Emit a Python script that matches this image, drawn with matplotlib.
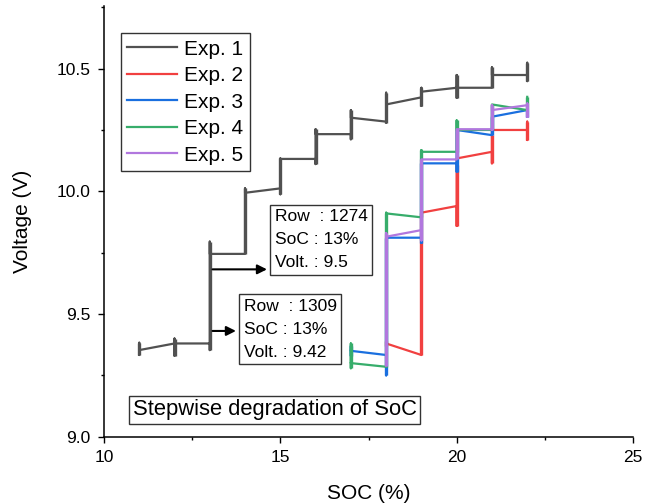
import matplotlib
matplotlib.use("Agg")
import matplotlib.pyplot as plt
from matplotlib.ticker import MultipleLocator

plt.rcParams['font.family'] = ['Liberation Sans', 'DejaVu Sans']

# each point: line arrives at v_in, vertical range lo..hi, line leaves at v_out
soc1 = [11, 12, 13, 14, 15, 16, 17, 18, 19, 20, 21, 22]
in1 = [9.353, 9.38, 9.38, 9.745, 10.012, 10.132, 10.233, 10.284, 10.383, 10.422, 10.422, 10.474]
lo1 = [9.333, 9.33, 9.353, 9.745, 9.988, 10.111, 10.212, 10.28, 10.348, 10.381, 10.422, 10.449]
hi1 = [9.383, 9.40, 9.795, 10.012, 10.134, 10.253, 10.331, 10.402, 10.422, 10.474, 10.505, 10.524]
out1 = [9.353, 9.38, 9.745, 9.994, 10.132, 10.233, 10.30, 10.354, 10.406, 10.422, 10.474, 10.474]

soc2 = [18, 19, 20, 21, 22]
in2 = [9.38, 9.333, 9.94, 10.161, 10.25]
lo2 = [9.37, 9.333, 9.859, 10.114, 10.209]
hi2 = [9.39, 9.913, 10.107, 10.229, 10.284]
out2 = [9.38, 9.913, 10.134, 10.25, 10.25]

soc3 = [17, 18, 19, 20, 21, 22]
in3 = [9.35, 9.333, 9.811, 10.114, 10.229, 10.331]
lo3 = [9.33, 9.25, 9.79, 10.08, 10.229, 10.304]
hi3 = [9.37, 9.811, 10.114, 10.25, 10.304, 10.331]
out3 = [9.35, 9.811, 10.114, 10.25, 10.304, 10.331]

soc4 = [17, 18, 19, 20, 21, 22]
in4 = [9.30, 9.285, 9.894, 10.161, 10.25, 10.331]
lo4 = [9.279, 9.285, 9.894, 10.161, 10.25, 10.331]
hi4 = [9.38, 9.913, 10.168, 10.289, 10.354, 10.385]
out4 = [9.30, 9.91, 10.161, 10.25, 10.354, 10.385]

soc5 = [18, 19, 20, 21, 22]
in5 = [9.29, 9.842, 10.130, 10.253, 10.351]
lo5 = [9.29, 9.80, 10.130, 10.25, 10.304]
hi5 = [9.83, 10.130, 10.253, 10.351, 10.358]
out5 = [9.815, 10.130, 10.253, 10.331, 10.351]

labels = ["Exp. 1", "Exp. 2", "Exp. 3", "Exp. 4", "Exp. 5"]
colors = ["#515151", "#F14040", "#1A6FDF", "#37AD6B", "#B177DE"]

series = [
    (soc1, in1, lo1, hi1, out1),
    (soc2, in2, lo2, hi2, out2),
    (soc3, in3, lo3, hi3, out3),
    (soc4, in4, lo4, hi4, out4),
    (soc5, in5, lo5, hi5, out5),
]

fig = plt.figure(figsize=(6.56, 5.04), dpi=100)
ax = fig.add_axes([0.1585, 0.1335, 0.8065, 0.8545])

for (soc, vin, lo, hi, vout), lab, c in zip(series, labels, colors):
    xs, ys = [], []
    for x, a, l, h, o in zip(soc, vin, lo, hi, vout):
        xs += [x, x, x, x]
        ys += [a, l, h, o]
    ax.plot(xs, ys, color=c, lw=1.6, label=lab)
    ax.vlines(soc, lo, hi, color=c, lw=2.4)

ax.set_xlim(10, 25)
ax.set_ylim(9.0, 10.755)
ax.xaxis.set_major_locator(MultipleLocator(5))
ax.xaxis.set_minor_locator(MultipleLocator(2.5))
ax.yaxis.set_major_locator(MultipleLocator(0.5))
ax.yaxis.set_minor_locator(MultipleLocator(0.25))
ax.yaxis.set_major_formatter(matplotlib.ticker.FormatStrFormatter('%.1f'))
ax.tick_params(which='major', direction='out', length=4.5, width=1, labelsize=12.5, pad=5)
ax.tick_params(which='minor', direction='out', length=2.5, width=1)
for s in ['top', 'right']:
    ax.spines[s].set_visible(False)
for s in ['left', 'bottom']:
    ax.spines[s].set_linewidth(1.1)

ax.set_xlabel("SOC (%)", fontsize=15, labelpad=14)
ax.set_ylabel("Voltage (V)", fontsize=15, labelpad=18)

leg = ax.legend(loc='upper left', bbox_to_anchor=(0.0316, 0.9366), borderaxespad=0,
                fontsize=15, frameon=True, fancybox=False, framealpha=1,
                handlelength=2.4, handletextpad=0.35, labelspacing=0.36,
                borderpad=0.3)
leg.get_frame().set_edgecolor('#333333')
leg.get_frame().set_linewidth(1)

# annotation boxes with arrows
arrow = dict(arrowstyle='-|>', color='black', lw=1.5, mutation_scale=14)
ax.annotate("", xy=(14.70, 9.682), xytext=(13, 9.682), arrowprops=arrow)
ax.annotate("", xy=(13.82, 9.431), xytext=(13, 9.431), arrowprops=arrow)

box = dict(boxstyle='square,pad=0.25', fc='white', ec='#333333', lw=1)
ax.text(14.84, 9.803, "Row  : 1274\nSoC : 13%\nVolt. : 9.5", fontsize=12.5,
        ha='left', va='center', linespacing=1.68, bbox=box)
ax.text(13.96, 9.437, "Row  : 1309\nSoC : 13%\nVolt. : 9.42", fontsize=12.5,
        ha='left', va='center', linespacing=1.68, bbox=box)

ax.text(14.84, 9.11, "Stepwise degradation of SoC", fontsize=15.8,
        ha='center', va='center',
        bbox=dict(boxstyle='square,pad=0.15', fc='white', ec='#333333', lw=1))

fig.savefig("out.png", dpi=100)
